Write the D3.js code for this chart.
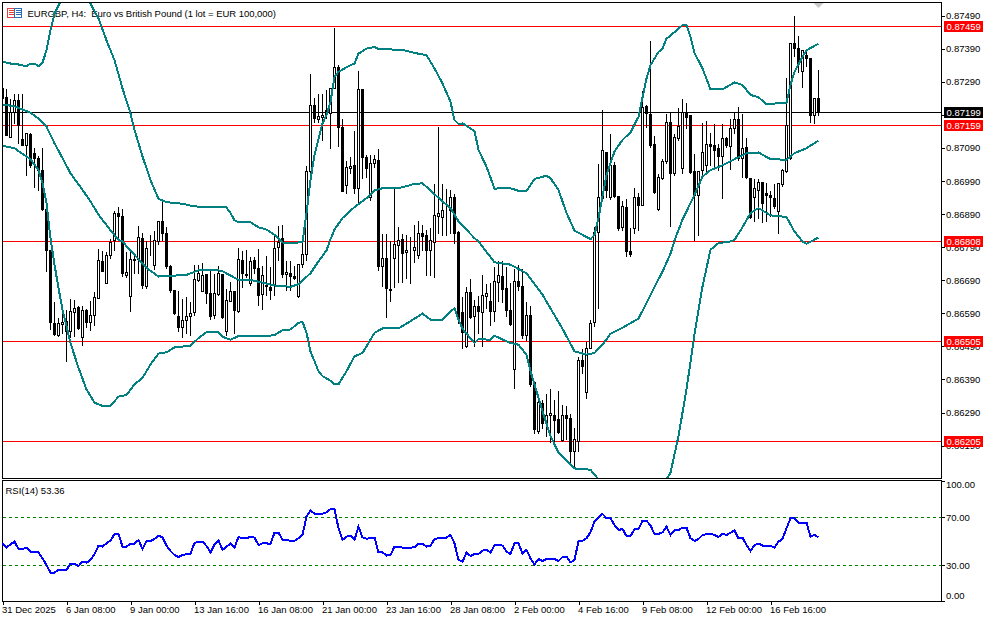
<!DOCTYPE html>
<html><head><meta charset="utf-8">
<script src="https://cdn.jsdelivr.net/npm/d3@7"></script>
<style>
html,body{margin:0;padding:0;background:#fff}
svg{display:block}
text{font-family:"Liberation Sans",Arial,sans-serif;font-size:9.5px;fill:#000}
</style></head><body>
<svg id="c" width="994" height="622"></svg>
<script>
// Prices are in points: 87199 means 0.87199
const openPts=[87270,87243,87122,87199,87234,87116,87099,87131,87074,87059,
87023,86905,86782,86561,86523,86558,86566,86536,86593,86609,
86519,86601,86563,86585,86636,86747,86683,86765,86810,86893,
86885,86707,86641,86754,86754,86817,86671,86786,86737,86807,
86868,86832,86734,86661,86583,86549,86571,86581,86593,86691,
86656,86709,86651,86586,86649,86708,86536,86626,86656,86596,
86752,86707,86683,86752,86727,86648,86676,86669,86676,86790,
86817,86708,86711,86703,86641,86740,86770,87021,87219,87176,
87182,87204,87194,87270,87333,87152,86978,87030,87039,86970,
87267,87061,86943,87044,87054,86734,86757,86663,86757,86797,
86815,86775,86782,86780,86765,86832,86827,86782,86804,86885,
86881,86901,86903,86941,86835,86595,86490,86654,86581,86613,
86593,86641,86626,86598,86686,86703,86666,86601,86422,86688,
86673,86523,86586,86382,86234,86320,86257,86282,86284,86271,
86207,86281,86274,86174,86204,86448,86352,86484,86563,86837,
86938,87077,86943,87039,86945,86850,86911,86779,86848,86943,
86918,87216,87192,87102,86905,86998,87049,87167,87013,87119,
87030,87199,87189,87020,86947,87023,87039,87101,87099,87089,
87066,87119,87096,87149,87177,87059,87092,86998,86941,86963,
86988,86955,86948,86938,86898,86981,87021,87059,87408,87393,
87323,87370,87363,87189,87242];
const highPts=[87270,87270,87240,87255,87255,87255,87139,87139,87094,87069,
87094,86905,86782,86626,86579,86596,86603,86636,86633,86616,
86616,86606,86631,86656,86787,86782,86777,86817,86903,86913,
86908,86777,86777,86774,86858,86835,86812,86830,86843,86868,
86928,86853,86740,86661,86659,86636,86641,86626,86740,86740,
86744,86709,86727,86711,86737,86711,86666,86689,86661,86790,
86782,86784,86764,86764,86787,86737,86767,86732,86827,86858,
86861,86750,86750,86737,86740,86812,87039,87315,87243,87255,
87257,87267,87270,87456,87345,87179,87054,87066,87144,87325,
87267,87072,87072,87072,87089,86832,86832,86812,86973,86855,
86832,86829,86825,86861,86873,86861,86845,86850,86983,87156,
86983,86968,86965,86953,86842,86641,86671,86696,86633,86646,
86709,86683,86686,86734,86752,86752,86732,86686,86727,86740,
86727,86628,86616,86385,86332,86330,86350,86365,86332,86357,
86315,86312,86289,86247,86460,86485,86505,86573,86853,87044,
87209,87077,87136,87049,86945,86933,86938,86850,86973,86958,
87265,87224,87415,87129,87013,87059,87194,87199,87134,87214,
87240,87229,87189,87074,87021,87169,87174,87139,87164,87104,
87164,87126,87179,87199,87216,87194,87124,86998,86998,86998,
86988,86988,86963,86983,86988,87028,87305,87408,87491,87430,
87385,87383,87363,87242,87327];
const lowPts=[87194,87130,87122,87164,87104,87099,87008,87033,86973,86963,
86901,86717,86541,86523,86521,86531,86445,86519,86521,86541,
86495,86549,86539,86556,86636,86717,86681,86757,86782,86812,
86703,86701,86596,86711,86711,86666,86666,86767,86724,86800,
86812,86727,86653,86589,86536,86519,86531,86523,86586,86689,
86656,86621,86573,86576,86646,86576,86523,86626,86529,86593,
86668,86699,86676,86711,86614,86604,86646,86633,86646,86752,
86701,86661,86661,86693,86639,86730,86752,87013,87169,87169,
87114,87180,87089,87270,87097,86961,86953,87015,86953,86925,
86998,87001,86933,87033,86720,86671,86579,86626,86668,86686,
86686,86696,86681,86744,86757,86782,86706,86706,86701,86832,
86827,86827,86832,86802,86561,86485,86488,86576,86492,86531,
86490,86606,86556,86566,86626,86623,86583,86556,86363,86661,
86516,86510,86370,86229,86227,86244,86219,86201,86204,86229,
86204,86209,86141,86121,86174,86408,86333,86484,86553,86606,
86938,86943,86935,86943,86843,86843,86762,86762,86832,86843,
86918,87154,87094,86953,86903,86995,87044,86853,87008,87114,
87015,87149,87013,86810,86827,87011,87013,87039,87033,87023,
86938,87094,87025,87134,87054,87003,86998,86878,86868,86878,
86865,86868,86883,86908,86832,86976,87018,87056,87367,87320,
87275,87337,87169,87166,87189];
const closePts=[87242,87130,87199,87234,87159,87099,87134,87039,87059,87023,
86905,86780,86563,86526,86561,86564,86536,86598,86606,86546,
86601,86563,86585,86639,86752,86717,86767,86804,86893,86885,
86711,86715,86754,86752,86820,86674,86787,86788,86812,86868,
86832,86732,86661,86591,86549,86571,86583,86591,86693,86711,
86706,86651,86583,86651,86713,86579,86631,86656,86599,86754,
86711,86709,86747,86727,86646,86706,86671,86659,86787,86804,
86708,86715,86704,86698,86740,86770,87020,87219,87179,87186,
87189,87192,87270,87333,87152,86961,87031,87036,86970,87267,
87061,87030,87044,87056,86734,86757,86666,86659,86800,86812,
86772,86781,86780,86790,86832,86824,86782,86812,86888,86893,
86903,86903,86941,86834,86576,86533,86654,86579,86613,86596,
86644,86651,86598,86688,86706,86664,86599,86559,86687,86673,
86523,86586,86375,86241,86322,86257,86281,86289,86266,86231,
86281,86273,86174,86209,86450,86430,86485,86561,86837,86941,
87084,86963,87039,86945,86848,86915,86777,86770,86943,86918,
87214,87194,87099,86958,87001,87050,87167,87013,87124,87156,
87199,87184,87018,86948,87021,87077,87102,87097,87084,87064,
87119,87099,87149,87176,87059,87091,87001,86881,86968,86988,
86923,86949,86940,86915,86983,87023,87159,87408,87392,87345,
87385,87362,87189,87242,87199];

// Bollinger bands, read at the candle numbers in the *At lists
const upperAt=[0,2,4,6,7,8,9,10,11,12,13,14,15,17,19,20,21,22,24,26,28,30,32,33,35,37,39,41,45,48,56,57,58,59,62,64,66,68,70,72,75,76,77,78,80,81,82,83,84,87,88,89,91,93,94,100,103,106,108,110,112,113,114,115,118,119,121,123,127,129,131,133,136,137,139,141,143,145,147,148,149,150,151,153,155,157,159,161,162,164,165,166,168,170,171,172,173,175,177,180,183,185,187,189,191,196,197,198,200,201,204];
const upperVal=[87350,87345,87342,87337,87345,87345,87337,87348,87385,87446,87496,87521,87541,87571,87576,87561,87536,87526,87481,87415,87355,87270,87194,87144,87064,86993,86936,86926,86921,86913,86910,86893,86871,86865,86865,86850,86843,86827,86804,86802,86805,86893,86993,87069,87164,87189,87229,87305,87320,87340,87345,87375,87390,87395,87389,87386,87377,87370,87330,87285,87229,87174,87162,87164,87141,87084,87033,86967,86968,86960,86960,86996,87006,86998,86963,86893,86840,86827,86814,86827,86878,86943,87008,87079,87114,87137,87184,87300,87340,87380,87390,87420,87440,87461,87461,87425,87377,87330,87267,87267,87288,87280,87250,87243,87222,87227,87280,87320,87365,87385,87405];
const middleAt=[0,3,5,7,9,11,13,15,17,20,22,24,27,29,30,32,34,36,39,46,49,53,55,59,62,68,72,74,77,79,81,82,83,85,88,91,93,95,99,103,105,107,110,112,114,118,119,123,127,131,135,140,143,146,148,150,152,155,159,161,164,165,167,168,170,173,175,177,180,183,186,189,192,196,198,201,204];
const middleVal=[87221,87216,87206,87196,87179,87154,87104,87059,87013,86963,86928,86888,86841,86812,86807,86779,86754,86727,86701,86706,86720,86722,86717,86691,86691,86674,86670,86678,86711,86747,86780,86814,86843,86878,86911,86938,86961,86968,86968,86981,86983,86961,86928,86908,86868,86817,86807,86744,86737,86711,86646,86543,86475,86465,86470,86495,86528,86546,86574,86621,86693,86716,86770,86810,86873,86948,87003,87023,87037,87056,87074,87076,87056,87054,87074,87089,87112];
const lowerAt=[0,3,5,7,9,10,11,12,13,14,15,17,19,21,23,25,27,29,31,33,35,37,39,41,43,47,49,51,54,55,57,59,66,68,70,72,74,75,76,77,79,80,82,83,84,86,88,90,93,95,99,102,105,107,110,113,114,115,118,119,122,123,127,129,131,132,135,137,139,143,147,149,153,158,162,165,167,169,171,173,175,177,179,182,183,185,187,189,192,196,198,200,201,204];
const lowerVal=[87096,87089,87072,87056,87023,86983,86923,86817,86737,86666,86601,86500,86425,86360,86320,86310,86310,86338,86343,86375,86395,86435,86468,86472,86487,86492,86515,86533,86533,86519,86510,86521,86521,86524,86539,86541,86561,86564,86531,86475,86415,86400,86386,86375,86375,86415,86460,86470,86531,86544,86544,86566,86589,86571,86571,86606,86571,86543,86500,86512,86510,86522,86500,86495,86465,86415,86294,86219,86169,86121,86117,86088,86060,86010,86020,86070,86108,86219,86360,86526,86671,86782,86802,86807,86812,86850,86893,86908,86886,86881,86837,86807,86800,86819];

const rsiVal=[48.3,44.7,47.5,49.7,43.6,43.6,44.7,41.4,41.4,40.8,
35.8,30.3,23.9,23.9,26.1,26.1,26.1,31.4,31.4,29.4,
33.1,32.2,34.4,39.2,46.4,45.6,48.3,50.6,56.1,56.4,
45.6,45.6,47.8,48.1,51.1,43.6,50.3,50.3,51.9,54.7,
53.3,46.4,41.9,38.6,36.9,38.6,39.2,39.7,48.6,49.7,
49.7,46.1,40.8,47.5,50.6,42.8,45.6,48.1,44.7,53.6,
52.5,52.5,53.9,53.1,46.9,48.3,48.3,47.8,57.2,57.2,
51.4,51.1,50.3,50.3,52.5,55.3,70.6,75.6,73.1,73.1,
73.1,74.2,
76.9,76.9,60.8,51.1,53.9,54.7,51.1,62.2,53.3,52.2,52.5,53.1,40.8,40.8,38.1,38.6,45.6,45.6,44.7,44.7,44.7,45.0,47.8,47.8,45.6,46.4,51.9,52.5,53.1,53.1,55.3,48.3,34.4,33.1,40.6,37.8,39.4,39.4,42.2,42.8,40.6,46.9,47.2,46.4,41.4,39.4,48.3,48.3,40.0,42.8,35.8,30.8,35.3,33.6,35.3,35.3,35.3,33.6,36.9,37.2,32.5,34.4,50.3,50.3,52.5,57.5,66.4,70.0,72.8,69.2,69.2,63.6,59.4,60.3,54.4,54.4,60.0,60.0,67.2,67.2,63.1,56.1,56.1,
57.5,62.2,55.3,59.4,59.4,61.4,61.4,52.5,50.3,51.9,55.3,55.8,56.1,55.3,53.6,56.1,55.3,57.2,58.9,52.5,53.1,46.9,41.9,46.9,48.1,46.4,46.4,46.1,44.7,49.7,51.9,60.8,69.2,69.2,65.6,65.6,65.6,53.9,55.3,53.36];

const priceTicks=[87490,87390,87290,87190,87090,86990,86890,86790,86690,86590,86490,86390,86290,86190];
const redLevels=[87459,87159,86808,86505,86205];
const lastPrice=87199;
const rsiTicks=[100,70,30,0];
const rsiLevels=[70,30];
const timeTickAt=[0,16,32,48,64,80,96,112,128,144,160,176,192];
const timeLabels=["31 Dec 2025","6 Jan 08:00","9 Jan 00:00","13 Jan 16:00","16 Jan 08:00","21 Jan 00:00","23 Jan 16:00","28 Jan 08:00","2 Feb 00:00","4 Feb 16:00","9 Feb 08:00","12 Feb 00:00","16 Feb 16:00"];
const titleText="EURGBP, H4:  Euro vs British Pound (1 lot = EUR 100,000)";
const rsiTitle="RSI(14) 53.36";

const L=2.5,R=941.5,T=2.5,B=478.5,RT=480.5,RB=601.5;
const svg=d3.select("#c");
const x=d3.scaleLinear().domain([0,204]).range([2.5,818.5]);
const y=d3.scaleLinear().domain([87490,86190]).range([15.55,445.6]);
const ry=d3.scaleLinear().domain([0,100]).range([601.3,481.3]);
const py=v=>Math.round(y(v))+.5, pry=v=>Math.round(ry(v))+.5;
const fmt=v=>(v/1e5).toFixed(5);

svg.append("defs").append("clipPath").attr("id","mainClip").append("rect")
  .attr("x",L).attr("y",T).attr("width",R-L).attr("height",B-T);

// title and icon
const icon=svg.append("g").attr("shape-rendering","crispEdges");
icon.append("rect").attr("x",7.5).attr("y",8.5).attr("width",7).attr("height",9).attr("fill","#fff").attr("stroke","#e8403a");
icon.append("rect").attr("x",14.5).attr("y",8.5).attr("width",7).attr("height",9).attr("fill","#fff").attr("stroke","#2a6fb5");
icon.selectAll("line.r").data([10.5,12.5,14.5]).join("line").attr("x1",9).attr("x2",14).attr("y1",d=>d).attr("y2",d=>d).attr("stroke","#e8403a");
icon.selectAll("line.b").data([10.5,12.5,14.5]).join("line").attr("x1",16).attr("x2",21).attr("y1",d=>d).attr("y2",d=>d).attr("stroke","#2a6fb5");
svg.append("text").attr("x",27.5).attr("y",17).attr("xml:space","preserve").style("white-space","pre")
  .attr("textLength",248.5).attr("lengthAdjust","spacing").text(titleText);

const lines=svg.append("g").attr("shape-rendering","crispEdges");
lines.selectAll("line.red").data(redLevels).join("line").attr("x1",L).attr("x2",R).attr("y1",py).attr("y2",py).attr("stroke","#ff0000");
lines.append("line").attr("x1",L).attr("x2",R).attr("y1",py(lastPrice)).attr("y2",py(lastPrice)).attr("stroke","#000");

// candles
const data=openPts.map((o,i)=>({i,o,h:highPts[i],l:lowPts[i],c:closePts[i]}));
const cg=svg.append("g").attr("shape-rendering","crispEdges").attr("clip-path","url(#mainClip)");
const candle=cg.selectAll("g").data(data).join("g");
candle.append("line").attr("x1",d=>x(d.i)).attr("x2",d=>x(d.i)).attr("y1",d=>py(d.h)).attr("y2",d=>py(d.l)).attr("stroke","#000");
candle.append("rect").attr("x",d=>x(d.i)-1).attr("width",2)
  .attr("y",d=>py(Math.max(d.o,d.c))).attr("height",d=>py(Math.min(d.o,d.c))-py(Math.max(d.o,d.c)))
  .attr("fill",d=>d.c>=d.o?"#fff":"#000").attr("stroke","#000");

// bands
const bandLine=d3.line().x(d=>x(d[0])).y(d=>y(d[1]));
const bands=svg.append("g").attr("clip-path","url(#mainClip)").attr("fill","none").attr("stroke","#008080").attr("stroke-width",2).attr("shape-rendering","crispEdges");
[[upperAt,upperVal],[middleAt,middleVal],[lowerAt,lowerVal]].forEach(([a,v])=>{
  bands.append("path").attr("d",bandLine(a.map((k,j)=>[k,v[j]])));
});

// frames
const fr=svg.append("g").attr("fill","none").attr("stroke","#000").attr("shape-rendering","crispEdges");
fr.append("rect").attr("x",L).attr("y",T).attr("width",R-L).attr("height",B-T);
fr.append("rect").attr("x",L).attr("y",RT).attr("width",R-L).attr("height",RB-RT);

// price axis
const pa=svg.append("g").attr("transform",`translate(${R-0.5},0)`).attr("shape-rendering","crispEdges")
  .call(d3.axisRight(y).tickValues(priceTicks).tickSize(4).tickPadding(1).tickFormat(fmt));
pa.select(".domain").remove();
pa.selectAll("line").attr("stroke","#000");
pa.selectAll("text").attr("fill","#000").attr("font-size",null).attr("font-family",null);

// labels on price axis
const lab=svg.append("g");
const tag=(v,col)=>{
  lab.append("rect").attr("x",944).attr("width",39).attr("y",py(v)-5.5).attr("height",11).attr("fill",col).attr("shape-rendering","crispEdges");
  lab.append("text").attr("x",946.5).attr("y",py(v)+3.5).style("fill","#fff").text(fmt(v));
};
tag(lastPrice,"#000");
redLevels.forEach(v=>tag(v,"#ff0000"));

// grey marker
svg.append("path").attr("d",d3.line()([[x(204)-5,3],[x(204)+5,3],[x(204),8]])).attr("fill","#c8c8c8");

// RSI
const rg=svg.append("g");
rg.selectAll("line").data(rsiLevels).join("line").attr("x1",L).attr("x2",R).attr("y1",pry).attr("y2",pry)
  .attr("stroke","#008000").attr("stroke-dasharray","3,3").attr("shape-rendering","crispEdges");
rg.append("path").datum(rsiVal).attr("fill","none").attr("stroke","#0000ff").attr("stroke-width",2).attr("shape-rendering","crispEdges")
  .attr("d",d3.line().x((d,i)=>x(i)).y(d=>ry(d)));
rg.append("text").attr("x",5.5).attr("y",494).text(rsiTitle);
const ra=svg.append("g").attr("transform",`translate(${R-0.5},0)`).attr("shape-rendering","crispEdges")
  .call(d3.axisRight(ry).tickValues(rsiTicks).tickSize(4).tickPadding(1).tickFormat(d=>d.toFixed(2)));
ra.select(".domain").remove();
ra.selectAll("line").attr("stroke","#000");
ra.selectAll("text").attr("fill","#000").attr("font-size",null).attr("font-family",null)
  .attr("dy",d=>d===100?"0.7em":d===0?"-0.3em":"0.32em");

// time axis
const ta=svg.append("g").attr("transform",`translate(0,${RB-0.5})`).attr("shape-rendering","crispEdges")
  .call(d3.axisBottom(x).tickValues(timeTickAt).tickSize(4).tickPadding(1).tickFormat((d,i)=>timeLabels[i]));
ta.select(".domain").remove();
ta.selectAll("line").attr("stroke","#000");
ta.selectAll("text").attr("text-anchor","start").attr("fill","#000").attr("font-size",null).attr("font-family",null).attr("x",-1).attr("y",5).attr("dy","0.71em");
</script>
</body></html>
